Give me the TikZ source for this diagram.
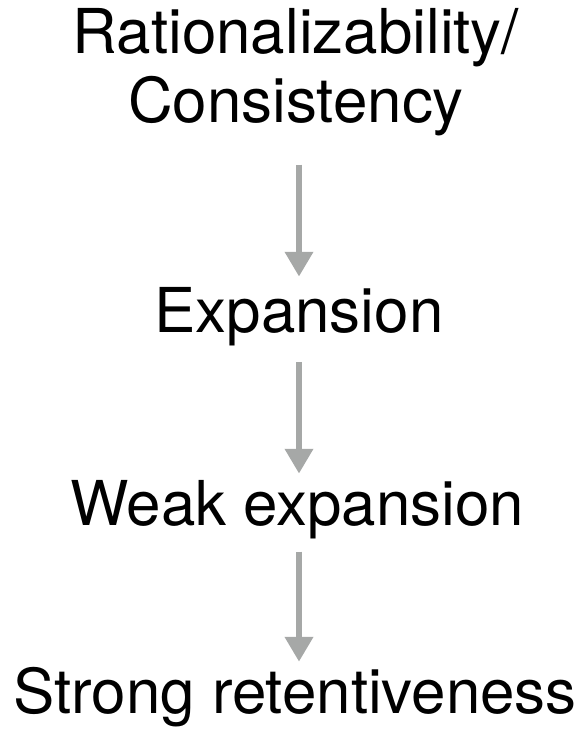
\documentclass[tikz,border=0pt]{standalone}
\usepackage{fontspec}
\setmainfont{TeX Gyre Heros}
\usetikzlibrary{arrows.meta}
\definecolor{arrowgray}{RGB}{166,168,167}

\begin{document}
\begin{tikzpicture}[x=0.025cm, y=-0.025cm,
	term/.style={font=\fontsize{44}{49}\selectfont, inner sep=0pt, anchor=base, align=center},
	imp/.style={draw=arrowgray, line width=4.3pt, -{Triangle[width=0.68cm, length=0.62cm, fill=arrowgray]}}]
	\useasboundingbox (0,0) rectangle (587,732);

	\node[term] (rat) at (296,122) {Rationalizability/\\Consistency};
	\node[term] (exp) at (299,332) {Expansion};
	\node[term] (weak) at (297,525) {Weak expansion};
	\node[term] (strong) at (295,713) {Strong retentiveness};

	\draw[imp, shorten <=0.72cm, shorten >=0.25cm] (rat.south -| exp) -- (exp);
	\draw[imp, shorten <=0.4cm, shorten >=0.15cm] (exp) -- (weak.north -| exp);
	\draw[imp, shorten <=0.32cm, shorten >=0.12cm] (weak.south -| exp) -- (strong.north -| exp);

\end{tikzpicture}
\end{document}
